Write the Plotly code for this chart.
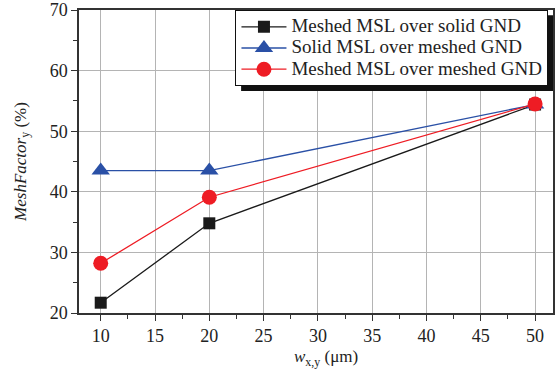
import plotly.graph_objects as go

x_vals = [10, 20, 50]
black_vals = [21.7, 34.8, 54.4]
blue_vals = [43.5, 43.5, 54.4]
red_vals = [28.2, 39.1, 54.5]
names = ["Meshed MSL over solid GND", "Solid MSL over meshed GND", "Meshed MSL over meshed GND"]
x_ticks = [10, 15, 20, 25, 30, 35, 40, 45, 50]
y_ticks = [20, 30, 40, 50, 60, 70]

FONT = "Liberation Serif"

def big(t):
    return '<span style="font-size:19px">' + t + '</span>'

fig = go.Figure()
fig.add_trace(go.Scatter(x=x_vals, y=black_vals, name=big(names[0]), mode="lines+markers",
                         line=dict(color="#1a1a1a", width=1.3),
                         marker=dict(symbol="square", size=12, color="#1a1a1a")))
fig.add_trace(go.Scatter(x=x_vals, y=blue_vals, name=big(names[1]), mode="lines+markers",
                         line=dict(color="#2a50a6", width=1.3),
                         marker=dict(symbol="triangle-up", size=16, color="#2a50a6")))
fig.add_trace(go.Scatter(x=x_vals, y=red_vals, name=big(names[2]), mode="lines+markers",
                         line=dict(color="#ee1c24", width=1.3),
                         marker=dict(symbol="circle", size=15, color="#ee1c24")))

axis_common = dict(
    showline=True, linecolor="#333333", linewidth=1.5, mirror=True,
    showgrid=True, gridcolor="#b4b4b4", gridwidth=1,
    ticks="outside", ticklen=6, tickcolor="#333333", tickwidth=1.2,
    tickfont=dict(family=FONT, size=18, color="#222222"),
    zeroline=False,
)

fig.update_layout(
    width=555, height=374,
    margin=dict(l=79, r=0, t=10, b=61),
    paper_bgcolor="white", plot_bgcolor="white",
    font=dict(family=FONT, color="#222222"),
    xaxis=dict(range=[8, 51.65], tickvals=x_ticks,
               minor=dict(ticks="outside", ticklen=4, dtick=2.5, tick0=0, tickcolor="#333333", showgrid=False),
               **axis_common),
    yaxis=dict(range=[20, 70], tickvals=y_ticks,
               minor=dict(ticks="outside", ticklen=4, dtick=5, tick0=0, tickcolor="#333333", showgrid=False),
               title=dict(text="<i>MeshFactor</i><sub>y</sub> (%)", font=dict(family=FONT, size=17), standoff=19),
               **axis_common),
    legend=dict(x=0.99, y=1.0, xanchor="right", yanchor="top",
                bgcolor="white", bordercolor="#111111", borderwidth=1.2,
                font=dict(family=FONT, size=14, color="#222222"),
                itemwidth=45, tracegroupgap=0),
    showlegend=True,
    annotations=[dict(text="<i>w</i><sub>x,y</sub> (μm)", xref="paper", yref="paper",
                      x=0.521, y=-0.15, xanchor="center", yanchor="middle", showarrow=False,
                      font=dict(family=FONT, size=17, color="#222222"))],
)

# legend drop shadow
fig.add_shape(type="rect", xref="paper", yref="paper",
              x0=0.342, x1=1.0, y0=0.733, y1=0.983,
              fillcolor="#111111", line=dict(width=0), layer="above")

fig.write_html("out.html")
